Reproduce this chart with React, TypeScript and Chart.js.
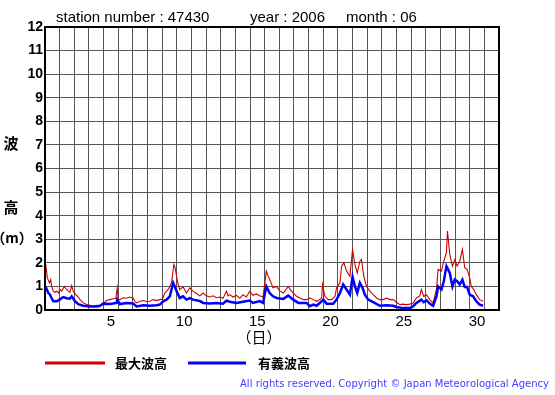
import React, { useEffect, useRef } from "react";
import { Chart, registerables } from "chart.js";

Chart.register(...registerables);

// time in days since June 1 00:00
const maxTimes = [
  0.05, 0.16, 0.3, 0.39, 0.45, 0.57, 0.68, 0.8, 0.91, 1.02, 1.14, 1.32, 1.48, 1.59, 1.7, 1.82, 1.93,
  2.11, 2.27, 2.39, 2.5, 2.61, 2.84, 3.07, 3.3, 3.52, 3.75, 3.98, 4.2, 4.43, 4.66, 4.84, 4.93, 5.0,
  5.11, 5.34, 5.57, 5.8, 6.02, 6.14, 6.25, 6.48, 6.7, 6.93, 7.16, 7.39, 7.61, 7.84, 8.02, 8.18, 8.41,
  8.64, 8.8, 8.89, 8.98, 9.09, 9.2, 9.43, 9.66, 9.89, 10.11, 10.34, 10.57, 10.8, 11.02, 11.25, 11.48,
  11.7, 11.93, 12.16, 12.39, 12.5, 12.61, 12.84, 13.07, 13.3, 13.52, 13.75, 13.98, 14.2, 14.43, 14.66,
  14.89, 15.11, 15.23, 15.34, 15.57, 15.8, 16.05, 16.27, 16.61, 16.77, 16.95, 17.18, 17.41, 17.64,
  17.86, 18.09, 18.32, 18.55, 18.77, 18.89, 18.95, 19.11, 19.34, 19.57, 19.8, 19.91, 20.14, 20.25,
  20.41, 20.59, 20.82, 21.0, 21.16, 21.32, 21.5, 21.61, 21.77, 21.95, 22.18, 22.41, 22.64, 22.86,
  23.09, 23.32, 23.55, 23.77, 24.0, 24.23, 24.45, 24.68, 24.91, 25.14, 25.36, 25.59, 25.7, 25.86,
  26.05, 26.27, 26.5, 26.73, 26.84, 27.07, 27.23, 27.41, 27.48, 27.64, 27.82, 27.98, 28.14, 28.32,
  28.5, 28.66, 28.82, 29.0, 29.11, 29.27, 29.45, 29.68, 29.91,
];
const maxValues = [
  1.93, 1.36, 1.15, 1.29, 1.0, 0.8, 0.75, 0.8, 0.72, 0.87, 0.8, 1.0, 0.87, 0.8, 0.75, 1.03, 0.78,
  0.65, 0.55, 0.44, 0.38, 0.3, 0.23, 0.2, 0.17, 0.2, 0.18, 0.27, 0.4, 0.44, 0.48, 0.5, 0.94, 0.45,
  0.44, 0.52, 0.5, 0.55, 0.5, 0.37, 0.3, 0.37, 0.4, 0.36, 0.37, 0.44, 0.4, 0.44, 0.46, 0.72, 0.87,
  1.15, 1.93, 1.79, 1.43, 1.1, 0.87, 0.98, 0.72, 0.94, 0.8, 0.7, 0.6, 0.72, 0.6, 0.55, 0.6,
  0.52, 0.55, 0.5, 0.8, 0.6, 0.65, 0.55, 0.62, 0.5, 0.65, 0.55, 0.8, 0.62, 0.68, 0.6,
  0.55, 1.65, 1.45, 1.3, 0.94, 1.0, 0.8, 0.72, 1.0, 0.85, 0.72, 0.58, 0.51, 0.44,
  0.44, 0.51, 0.44, 0.37, 0.45, 0.51, 1.08, 0.58, 0.44, 0.44, 0.58, 0.94, 1.15, 1.86,
  2.0, 1.65, 1.43, 2.57, 1.93, 1.57, 2.07, 2.14, 1.43, 1.0, 0.8, 0.65, 0.51, 0.44,
  0.44, 0.5, 0.44, 0.44, 0.33, 0.23, 0.25, 0.23, 0.25, 0.3, 0.51, 0.6, 0.87, 0.58,
  0.65, 0.44, 0.3, 0.87, 1.72, 1.65, 2.07, 2.43, 3.35, 2.36, 1.86, 2.14, 1.86, 2.07,
  2.57, 1.79, 1.72, 1.36, 1.0, 0.87, 0.65, 0.44, 0.37,
];

const sigTimes = [
  0.05, 0.23, 0.34, 0.45, 0.57, 0.8, 1.02, 1.25, 1.48, 1.7, 1.82, 2.05, 2.27, 2.61, 3.07, 3.52, 3.75,
  3.98, 4.43, 4.89, 4.93, 5.11, 5.57, 6.02, 6.25, 6.7, 7.16, 7.61, 7.84, 8.07, 8.3, 8.52, 8.75, 8.86,
  8.98, 9.2, 9.43, 9.66, 9.89, 10.11, 10.57, 10.8, 11.25, 11.7, 12.16, 12.39, 12.61, 13.07, 13.52,
  13.98, 14.2, 14.66, 14.89, 15.11, 15.34, 15.57, 15.82, 16.27, 16.61, 16.95, 17.3, 17.86, 18.09,
  18.32, 18.55, 18.89, 19.0, 19.23, 19.68, 19.91, 20.14, 20.36, 20.59, 20.82, 21.0, 21.16, 21.32,
  21.5, 21.68, 21.84, 22.07, 22.41, 22.86, 23.32, 23.77, 24.0, 24.45, 24.91, 25.14, 25.36, 25.7,
  25.86, 26.05, 26.27, 26.5, 26.73, 26.84, 27.07, 27.23, 27.41, 27.64, 27.82, 27.98, 28.14, 28.32,
  28.5, 28.66, 28.82, 29.0, 29.23, 29.45, 29.68, 29.91,
];
const sigValues = [
  0.98, 0.72, 0.65, 0.51, 0.37, 0.37, 0.45, 0.55, 0.5, 0.48, 0.58, 0.37, 0.25, 0.18, 0.15, 0.15, 0.18,
  0.27, 0.25, 0.3, 0.44, 0.25, 0.3, 0.28, 0.15, 0.2, 0.18, 0.2, 0.23, 0.37, 0.44, 0.58, 1.15, 1.0,
  0.8, 0.51, 0.58, 0.44, 0.5, 0.44, 0.38, 0.3, 0.28, 0.3, 0.27, 0.4, 0.35, 0.3, 0.35,
  0.4, 0.3, 0.38, 0.3, 1.0, 0.72, 0.58, 0.51, 0.47, 0.61, 0.44, 0.3, 0.3, 0.16,
  0.23, 0.18, 0.37, 0.44, 0.27, 0.27, 0.44, 0.72, 1.08, 0.87, 0.65, 1.4, 1.0, 0.72,
  1.15, 0.94, 0.65, 0.44, 0.33, 0.18, 0.2, 0.18, 0.13, 0.08, 0.08, 0.16, 0.3, 0.44,
  0.33, 0.41, 0.27, 0.18, 0.58, 1.0, 0.87, 1.22, 1.86, 1.57, 1.0, 1.29, 1.22, 1.08,
  1.29, 0.98, 0.98, 0.65, 0.58, 0.37, 0.23, 0.18,
];

const titleParts = ["station number : 47430", "year : 2006", "month : 06"];
const yTitle = ["波", "高", "（m）"];
const xTitle = "（日）";
const legendLabels = ["最大波高", "有義波高"];
const copyright = "All rights reserved. Copyright © Japan Meteorological Agency";
const dayLabels = [5, 10, 15, 20, 25, 30];

const RED = "#cc0000";
const BLUE = "#0000ff";

const decor = {
  id: "decor",
  afterDraw(chart: any) {
    const { ctx, chartArea } = chart;
    ctx.save();
    ctx.strokeStyle = "#000";
    ctx.lineWidth = 2;
    ctx.strokeRect(chartArea.left, chartArea.top, chartArea.right - chartArea.left, chartArea.bottom - chartArea.top);

    ctx.fillStyle = "#000";
    ctx.textBaseline = "alphabetic";
    ctx.textAlign = "left";
    ctx.font = "15px 'Liberation Sans', Arial, sans-serif";
    ctx.fillText(titleParts[0], 56, 22);
    ctx.fillText(titleParts[1], 250, 22);
    ctx.fillText(titleParts[2], 346, 22);

    ctx.textAlign = "center";
    ctx.textBaseline = "middle";
    ctx.font = "bold 15px 'Noto Sans CJK JP', sans-serif";
    ctx.fillText(yTitle[0], 11, 143);
    ctx.fillText(yTitle[1], 11, 207);
    ctx.font = "bold 14px 'Noto Sans CJK JP', sans-serif";
    ctx.fillText(yTitle[2], 12, 238);

    ctx.font = "15px 'Noto Sans CJK JP', sans-serif";
    ctx.fillText(xTitle, 259, 337);

    // legend
    ctx.lineWidth = 3;
    ctx.strokeStyle = RED;
    ctx.beginPath();
    ctx.moveTo(45, 363);
    ctx.lineTo(105, 363);
    ctx.stroke();
    ctx.strokeStyle = BLUE;
    ctx.beginPath();
    ctx.moveTo(188, 363);
    ctx.lineTo(246, 363);
    ctx.stroke();
    ctx.textAlign = "left";
    ctx.font = "bold 13px 'Noto Sans CJK JP', sans-serif";
    ctx.fillText(legendLabels[0], 115, 363);
    ctx.fillText(legendLabels[1], 258, 363);

    // copyright with letter spacing
    ctx.font = "10px 'DejaVu Sans', sans-serif";
    ctx.fillStyle = "#3f3fff";
    const chars = Array.from(copyright);
    const total = chars.reduce((s, c) => s + ctx.measureText(c).width, 0);
    const spacing = (309 - total) / (chars.length - 1);
    let x = 240;
    for (const c of chars) {
      ctx.fillText(c, x, 384);
      x += ctx.measureText(c).width + spacing;
    }
    ctx.restore();
  },
};

export default function App() {
  const ref = useRef<HTMLCanvasElement | null>(null);
  useEffect(() => {
    if (!ref.current) return;
    const chart = new Chart(ref.current, {
      type: "line",
      data: {
        datasets: [
          {
            label: legendLabels[1],
            data: sigTimes.map((t, i) => ({ x: t, y: sigValues[i] })),
            borderColor: BLUE,
            borderWidth: 2.5,
            pointRadius: 0,
            tension: 0,
            fill: false,
          },
          {
            label: legendLabels[0],
            data: maxTimes.map((t, i) => ({ x: t, y: maxValues[i] })),
            borderColor: RED,
            borderWidth: 1.1,
            pointRadius: 0,
            tension: 0,
            fill: false,
          },
        ],
      },
      options: {
        animation: false,
        responsive: false,
        maintainAspectRatio: false,
        layout: { padding: { left: 0, right: 56, top: 27, bottom: 0 } },
        plugins: { legend: { display: false }, tooltip: { enabled: false }, title: { display: false } },
        scales: {
          x: {
            type: "linear",
            min: 0,
            max: 31,
            border: { display: false },
            grid: { color: "#555", lineWidth: 1, drawTicks: false },
            ticks: {
              stepSize: 1,
              autoSkip: false,
              maxRotation: 0,
              labelOffset: 7.32,
              padding: 3,
              color: "#000",
              font: { family: "'Liberation Sans', Arial, sans-serif", size: 15 },
              callback: (v: any) => (dayLabels.includes(Number(v) + 1) ? String(Number(v) + 1) : ""),
            },
            afterFit: (s: any) => {
              s.height = 85;
            },
          },
          y: {
            min: 0,
            max: 12,
            border: { display: false },
            grid: { color: "#555", lineWidth: 1, drawTicks: false },
            ticks: {
              stepSize: 1,
              padding: 2,
              color: "#000",
              font: { family: "'Liberation Sans', Arial, sans-serif", size: 14, weight: "bold" },
            },
            afterFit: (s: any) => {
              s.width = 45;
            },
          },
        },
      },
      plugins: [decor],
    });
    return () => chart.destroy();
  }, []);
  return (
    <div style={{ position: "fixed", left: 0, top: 0, width: 555, height: 395, background: "#fff" }}>
      <canvas ref={ref} width={555} height={395} style={{ width: 555, height: 395 }} />
    </div>
  );
}
